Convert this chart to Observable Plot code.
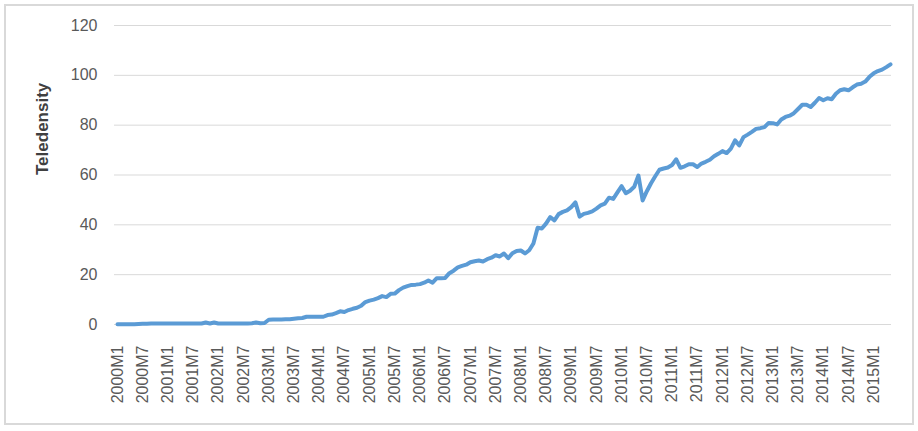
<!DOCTYPE html>
<html>
<head>
<meta charset="utf-8">
<script src="https://cdn.jsdelivr.net/npm/d3@7"></script>
<script src="https://cdn.jsdelivr.net/npm/@observablehq/plot@0.6"></script>
<style>
  html, body { margin: 0; padding: 0; background: #ffffff; }
  #chart { width: 918px; height: 431px; }
</style>
</head>
<body>
<div id="chart"></div>
<script>
// Categories: monthly periods 2000M1 .. 2015M5
const years = [2000,2001,2002,2003,2004,2005,2006,2007,2008,2009,2010,2011,2012,2013,2014,2015];
const months = [1,2,3,4,5,6,7,8,9,10,11,12];
const lastPeriod = "2015M5";

// Teledensity values, one per month
const teledensity = [
  0.1,0.1,0.1,0.1,0.1,0.2,0.3,0.3,0.4,0.4,0.4,0.4,      // 2000
  0.4,0.4,0.4,0.4,0.4,0.4,0.4,0.4,0.4,0.8,0.4,0.8,      // 2001
  0.4,0.4,0.4,0.4,0.4,0.4,0.4,0.4,0.5,0.8,0.5,0.6,      // 2002
  1.9,2.0,2.0,2.0,2.1,2.1,2.3,2.5,2.6,3.1,3.1,3.1,      // 2003
  3.1,3.1,3.8,4.0,4.6,5.3,5.0,5.8,6.3,6.7,7.5,9.0,      // 2004
  9.6,10.0,10.6,11.4,11.0,12.3,12.4,13.8,14.8,15.4,15.9,16.0, // 2005
  16.2,16.8,17.7,16.8,18.6,18.6,18.7,20.6,21.6,22.9,23.5,24.0, // 2006
  25.0,25.4,25.7,25.3,26.2,26.8,27.8,27.3,28.5,26.6,28.6,29.5, // 2007
  29.7,28.5,29.8,32.5,38.8,38.5,40.5,43.1,41.8,44.3,45.2,45.8, // 2008
  47.1,49.0,43.3,44.4,44.8,45.4,46.5,47.8,48.5,50.9,50.4,53.0, // 2009
  55.5,52.7,53.7,55.3,59.8,49.8,53.5,56.7,59.5,62.1,62.6,63.0, // 2010
  64.0,66.3,62.9,63.5,64.3,64.3,63.2,64.6,65.3,66.1,67.5,68.5, // 2011
  69.6,68.8,70.6,73.9,71.9,75.2,76.2,77.3,78.5,78.8,79.2,80.9, // 2012
  80.8,80.3,82.3,83.3,83.8,84.8,86.5,88.2,88.2,87.3,89.0,90.9, // 2013
  90.0,90.8,90.4,92.6,94.0,94.4,94.0,95.2,96.3,96.6,97.5,99.4, // 2014
  100.8,101.7,102.3,103.3,104.4                               // 2015
];

// Tick labels
const xTickLabels = [
  "2000M1","2000M7","2001M1","2001M7","2002M1","2002M7","2003M1","2003M7",
  "2004M1","2004M7","2005M1","2005M7","2006M1","2006M7","2007M1","2007M7",
  "2008M1","2008M7","2009M1","2009M7","2010M1","2010M7","2011M1","2011M7",
  "2012M1","2012M7","2013M1","2013M7","2014M1","2014M7","2015M1"
];
const yTicks = [0,20,40,60,80,100,120];
const yTitle = "Teledensity";

const periods = [];
outer: for (const yr of years) {
  for (const m of months) {
    const p = yr + "M" + m;
    periods.push(p);
    if (p === lastPeriod) break outer;
  }
}
const data = periods.map((p, i) => ({period: p, value: teledensity[i]}));

const chart = Plot.plot({
  width: 918,
  height: 431,
  marginLeft: 114,
  marginRight: 27,
  marginTop: 25,
  marginBottom: 107,
  insetLeft: 3,
  insetRight: 1,
  x: {type: "point", domain: periods, padding: 0},
  y: {domain: [0, 120]},
  style: {fontFamily: "'Liberation Sans', Arial, sans-serif", fontSize: "16px", color: "#595959", background: "#ffffff"},
  marks: [
    Plot.gridY(yTicks, {stroke: "#d9d9d9", strokeOpacity: 1, strokeWidth: 1}),
    Plot.axisY(yTicks, {tickSize: 0, tickPadding: 17, label: null, fill: "#595959", fontSize: 16}),
    Plot.axisX(xTickLabels, {tickSize: 0, tickRotate: -90, tickPadding: 21, label: null, fill: "#595959", fontSize: 16}),
    Plot.line(data, {x: "period", y: "value", stroke: "#5b9bd5", strokeWidth: 4, strokeLinejoin: "round", strokeLinecap: "round"}),
    Plot.text([yTitle], {frameAnchor: "left", rotate: -90, dx: -72, fontWeight: "bold", fontSize: 17, fill: "#404040"})
  ]
});

d3.select(chart).append("rect")
  .attr("x", 5).attr("y", 5).attr("width", 908).attr("height", 419)
  .attr("fill", "none").attr("stroke", "#d9d9d9").attr("stroke-width", 2);

document.getElementById("chart").appendChild(chart);
</script>
</body>
</html>
